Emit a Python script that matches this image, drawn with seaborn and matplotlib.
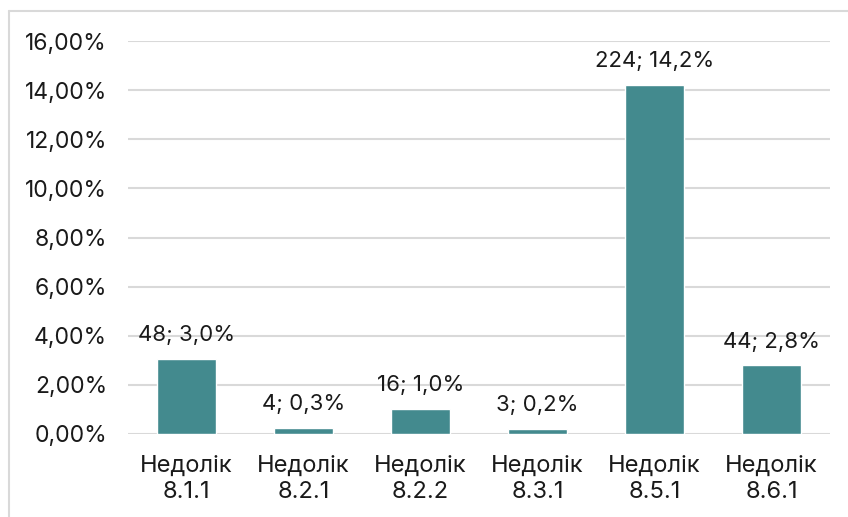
import matplotlib
matplotlib.use("Agg")
import matplotlib.pyplot as plt
import seaborn as sns
import pandas as pd
from matplotlib.lines import Line2D

categories = ["Недолік\n8.1.1", "Недолік\n8.2.1", "Недолік\n8.2.2",
              "Недолік\n8.3.1", "Недолік\n8.5.1", "Недолік\n8.6.1"]
counts = [48, 4, 16, 3, 224, 44]
percents = [3.04, 0.25, 1.01, 0.19, 14.2, 2.79]
label_pcts = ["3,0%", "0,3%", "1,0%", "0,2%", "14,2%", "2,8%"]
yticks = [0, 2, 4, 6, 8, 10, 12, 14, 16]

sns.set_theme(style="white")
plt.rcParams['font.family'] = ['Inter', 'DejaVu Sans']

df = pd.DataFrame({"cat": categories, "pct": percents})

fig = plt.figure(figsize=(8.48, 5.17), dpi=100)
ax = fig.add_axes([128/848, 1 - 434/517, (830-128)/848, (434-41)/517])

sns.barplot(data=df, x="cat", y="pct", color="#438A8E", saturation=1,
            width=0.5, ax=ax, zorder=3)

ax.set_ylim(0, 16)
ax.set_yticks(yticks)
ax.set_yticklabels([f"{v},00%" for v in yticks])
ax.yaxis.grid(True, color="#D9D9D9", linewidth=1.5, zorder=0)
ax.set_axisbelow(True)
for s in ax.spines.values():
    s.set_visible(False)
ax.set_xlabel("")
ax.set_ylabel("")
ax.tick_params(axis="y", labelsize=16.5, colors="#1a1a1a", pad=15, length=0)
ax.tick_params(axis="x", labelsize=17, colors="#1a1a1a", pad=15, length=0)
for lbl in ax.get_xticklabels():
    lbl.set_linespacing(1.25)

for i, (c, p, lp) in enumerate(zip(counts, percents, label_pcts)):
    ax.annotate(f"{c}; {lp}", (i, p), xytext=(0, 10), textcoords="offset points",
                ha="center", va="bottom", fontsize=16, color="#1a1a1a")

# chart area border (cropped)
fig.add_artist(Line2D([9/848, 1], [1 - 11/517, 1 - 11/517], color="#D9D9D9",
                      linewidth=1.5, transform=fig.transFigure))
fig.add_artist(Line2D([9/848, 9/848], [0, 1 - 11/517], color="#D9D9D9",
                      linewidth=1.5, transform=fig.transFigure))

fig.savefig("out.png", dpi=100)
